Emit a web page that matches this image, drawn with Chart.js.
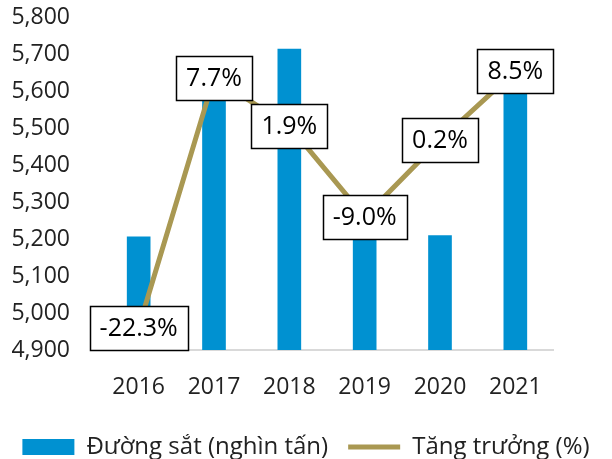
<!DOCTYPE html>
<html>
<head>
<meta charset="utf-8">
<script src="https://cdn.jsdelivr.net/npm/chart.js@4.4.0/dist/chart.umd.min.js"></script>
<style>
    html, body { margin: 0; padding: 0; background: #fff; }
    #khung { width: 612px; height: 459px; }
</style>
</head>
<body>
<div id="khung"><canvas id="bieuDo" width="612" height="459"></canvas></div>
<script>
// Dữ liệu
const nam = ['2016', '2017', '2018', '2019', '2020', '2021'];
const duongSat = [5206, 5607, 5713, 5199, 5209, 5652];   // nghìn tấn
const tangTruong = [-22.3, 7.7, 1.9, -9.0, 0.2, 8.5];    // %
const trucTrai = { min: 4900, max: 5800, buoc: 100 };
const trucPhai = { min: -25, max: 15 };

const FONT = '"Open Sans", "DejaVu Sans", sans-serif';
const MAU_COT = '#0091D1';
const MAU_DUONG = '#A99852';

// Vẽ nhãn trong khung trắng viền đen tại mỗi điểm của đường tăng trưởng
const nhanHop = {
    id: 'nhanHop',
    afterDatasetsDraw(chart) {
        const meta = chart.getDatasetMeta(1);
        const ctx = chart.ctx;
        ctx.save();
        ctx.font = '25px ' + FONT;
        ctx.textAlign = 'center';
        ctx.textBaseline = 'middle';
        meta.data.forEach((pt, i) => {
            const txt = tangTruong[i].toFixed(1) + '%';
            const w = Math.round(ctx.measureText(txt).width + 20);
            const h = 44;
            const x0 = Math.round(pt.x - w / 2) + 0.5;
            const y0 = Math.round(pt.y - h / 2) + 0.5;
            ctx.fillStyle = '#fff';
            ctx.fillRect(x0, y0, w, h);
            ctx.strokeStyle = '#000';
            ctx.lineWidth = 1.5;
            ctx.strokeRect(x0, y0, w, h);
            ctx.fillStyle = '#000';
            ctx.fillText(txt, pt.x, pt.y + 1);
        });
        ctx.restore();
    }
};

const ctx = document.getElementById('bieuDo').getContext('2d');
new Chart(ctx, {
    data: {
        labels: nam,
        datasets: [
            {
                type: 'bar',
                label: 'Đường sắt (nghìn tấn)',
                data: duongSat,
                backgroundColor: MAU_COT,
                barThickness: 23,
                yAxisID: 'y',
                pointStyle: 'rect',
                order: 2
            },
            {
                type: 'line',
                label: 'Tăng trưởng (%)',
                data: tangTruong,
                borderColor: MAU_DUONG,
                backgroundColor: MAU_DUONG,
                borderWidth: 5,
                borderCapStyle: 'round',
                pointRadius: 0,
                pointStyle: 'line',
                tension: 0,
                yAxisID: 'y2',
                order: 1
            }
        ]
    },
    options: {
        responsive: false,
        animation: false,
        devicePixelRatio: 1,
        layout: { padding: { top: 17, right: 0, left: 0, bottom: 0 } },
        plugins: {
            legend: {
                position: 'bottom',
                maxHeight: 44,
                labels: {
                    usePointStyle: true,
                    pointStyleWidth: 52,
                    boxHeight: 16,
                    padding: 20,
                    color: '#222',
                    font: { family: FONT, size: 24 },
                    sort: (a, b) => a.datasetIndex - b.datasetIndex
                }
            },
            tooltip: { enabled: false }
        },
        scales: {
            x: {
                grid: { display: false, drawTicks: false },
                border: { display: true, color: '#D9D9D9', width: 2 },
                ticks: { color: '#222', padding: 24, font: { family: FONT, size: 23 } },
                afterFit(scale) { scale.height = 65; }
            },
            y: {
                position: 'left',
                min: trucTrai.min,
                max: trucTrai.max,
                // khoảng cách nhãn lấy từ tickLength để không đẩy mép trên xuống
                grid: { display: false, drawTicks: true, tickLength: 31 },
                border: { display: false },
                ticks: {
                    stepSize: trucTrai.buoc,
                    padding: 0,
                    color: '#222',
                    font: { family: FONT, size: 23 },
                    callback: v => v.toLocaleString('en-US')
                },
                afterFit(scale) { scale.width = 101; }
            },
            // trục phụ cho % tăng trưởng: không hiện, chỉ giữ khoảng trống bên phải
            y2: {
                position: 'right',
                min: trucPhai.min,
                max: trucPhai.max,
                grid: { display: false, drawTicks: false },
                border: { display: false },
                ticks: { display: false },
                afterFit(scale) { scale.width = 59; }
            }
        }
    },
    plugins: [nhanHop]
});
</script>
</body>
</html>
